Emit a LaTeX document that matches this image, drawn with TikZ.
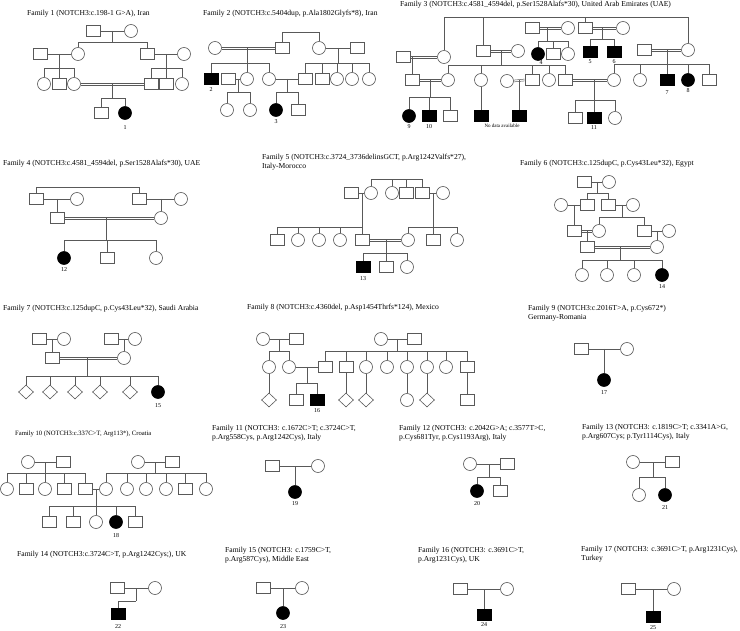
\documentclass[tikz,border=0pt]{standalone}
\usepackage{fontspec}
\setmainfont{Liberation Serif}
\usetikzlibrary{shapes.geometric}
\colorlet{lc}{black!65}
\tikzset{
  sq/.style={draw=lc, line width=0.6pt, rectangle, minimum width=14pt, minimum height=11pt, inner sep=0pt},
  ci/.style={draw=lc, line width=0.6pt, circle, minimum size=13pt, inner sep=0pt},
  dm/.style={draw=lc, line width=0.6pt, diamond, minimum width=15pt, minimum height=14pt, inner sep=0pt},
  aff/.style={fill=black, draw=black},
  ln/.style={draw=lc, line width=0.6pt},
  dln/.style={draw=lc, line width=0.5pt},
  ttl/.style={anchor=west, inner sep=0pt, align=left, font=\fontsize{7.6}{9}\selectfont},
  lab/.style={inner sep=0pt, font=\fontsize{6}{7}\selectfont}
}
\newcommand\Msq[3]{\node[sq] (#1) at (#2,#3) {};}
\newcommand\Mfa[3]{\node[sq,aff] (#1) at (#2,#3) {};}
\newcommand\Fci[3]{\node[ci] (#1) at (#2,#3) {};}
\newcommand\Ffa[3]{\node[ci,aff] (#1) at (#2,#3) {};}
\newcommand\Dmd[3]{\node[dm] (#1) at (#2,#3) {};}
\newcommand\mar[2]{\draw[ln] (#1) -- (#2);}
\newcommand\cmar[2]{\draw[dln] ([yshift=0.9pt]#1.east) -- ([yshift=0.9pt]#2.west);
  \draw[dln] ([yshift=-0.9pt]#1.east) -- ([yshift=-0.9pt]#2.west);}
\newcommand\sibl[2]{\foreach \ch in {#2}{\draw[ln] (\ch.north) |- (#1);}}
\newcommand\desc[3]{\coordinate (#1s) at (#1 |- 0,#2); \draw[ln] (#1) -- (#1s); \sibl{#1s}{#3}}
\newcommand\one[2]{\draw[ln] (#1) -- (#2.north);}
\begin{document}
\begin{tikzpicture}[x=1pt,y=-1pt]
\fill[white] (0,0) rectangle (740,631);
\useasboundingbox (0,0) rectangle (740,631);

% ---------------- Family 1
\node[ttl] (t1) at (27,14) {Family 1 (NOTCH3:c.198-1 G>A), Iran};
\Msq{a1}{93}{31} \Fci{a2}{131}{31} \mar{a1}{a2} \coordinate (am1) at (112,31);
\Msq{a3}{40}{54} \Fci{a4}{78}{54} \Msq{a5}{147}{54} \Fci{a6}{184}{54}
\desc{am1}{42}{a4,a5}
\mar{a3}{a4} \coordinate (am2) at (59,54);
\mar{a5}{a6} \coordinate (am3) at (166,54);
\Fci{a7}{44}{84} \Msq{a8}{59}{84} \Fci{a9}{74}{84}
\Msq{a10}{151}{84} \Msq{a11}{166}{84} \Fci{a12}{182}{84}
\desc{am2}{68}{a7,a8,a9}
\desc{am3}{68}{a10,a11,a12}
\cmar{a9}{a10} \coordinate (am4) at (112,84);
\Msq{a13}{101}{113} \Ffa{a14}{125}{113}
\desc{am4}{98}{a13,a14}
\node[lab] (l1) at (125,128) {1};

% ---------------- Family 2
\node[ttl] (t2) at (203,14) {Family 2 (NOTCH3:c.5404dup, p.Ala1802Glyfs*8), Iran};
\Fci{b1}{215}{48} \Msq{b2}{282}{48} \Fci{b3}{319}{48} \Msq{b4}{357}{48}
\cmar{b1}{b2} \coordinate (bm1) at (247,48);
\draw[ln] (b2.north) -- (b2.north |- 0,32) -| (b3.north);
\mar{b3}{b4} \coordinate (bm2) at (338,48);
\Msq{b5}{305}{79} \Msq{b6}{322}{79} \Fci{b7}{337}{79} \Fci{b8}{352}{79} \Fci{b9}{369}{79}
\desc{bm2}{63}{b5,b6,b7,b8,b9}
\Mfa{b10}{211}{79} \Msq{b13}{228}{79} \Fci{b11}{247}{79} \Fci{b12}{269}{79}
\desc{bm1}{63}{b10,b11,b12}
\mar{b13}{b11} \coordinate (bm3) at (238,79);
\Fci{b14}{227}{110} \Fci{b15}{250}{110}
\desc{bm3}{92}{b14,b15}
\mar{b12}{b5} \coordinate (bm4) at (287,79);
\Ffa{b16}{276}{110} \Msq{b17}{298}{110}
\desc{bm4}{92}{b16,b17}
\node[lab] (l2) at (211,90) {2};
\node[lab] (l3) at (276,122) {3};

% ---------------- Family 3
\node[ttl] (t3) at (400,5) {Family 3 (NOTCH3:c.4581\_4594del, p.Ser1528Alafs*30), United Arab Emirates (UAE)};
\Fci{c1}{444}{57} \Msq{c2}{483}{51} \Msq{c3}{532}{28} \Fci{c4}{568}{28}
\Msq{c5}{585}{28} \Fci{c6}{623}{28} \Fci{c7}{688}{50}
\coordinate (ctop) at (560,17);
\sibl{ctop}{c1,c2,c5,c7}
\cmar{c3}{c4} \coordinate (cm1) at (547,28);
\Ffa{c8}{538}{54} \Msq{c9}{553}{54} \Fci{c10}{568}{54}
\desc{cm1}{41}{c8,c9,c10}
\cmar{c5}{c6} \coordinate (cm2) at (602,28);
\Mfa{c11}{590}{52} \Mfa{c12}{614}{52}
\desc{cm2}{39}{c11,c12}
\node[lab] (l4) at (541,63) {4};
\node[lab] (l5) at (590,62) {5};
\node[lab] (l6) at (614,62) {6};
\Msq{c13}{403}{57} \cmar{c13}{c1} \coordinate (cm3) at (412,57);
\Msq{c14}{412}{80} \one{cm3}{c14}
\Fci{c15}{448}{80} \cmar{c14}{c15} \coordinate (cm4) at (430,80);
\Ffa{c16}{409}{116} \Mfa{c17}{429}{116} \Msq{c18}{450}{116}
\desc{cm4}{97}{c16,c17,c18}
\node[lab] (l9) at (409,127) {9};
\node[lab] (l10) at (429,127) {10};
\Fci{c19}{518}{51} \cmar{c2}{c19} \coordinate (cm5) at (501,51);
\Fci{c20}{481}{80} \Msq{c21}{532}{80} \Fci{c22}{549}{80} \Msq{c23}{565}{80}
\desc{cm5}{65}{c15,c20,c21,c22,c23}
\Fci{c34}{507}{81} \cmar{c34}{c21} \coordinate (cm8) at (519,80);
\Mfa{c33}{481}{116} \one{c20.south}{c33}
\Mfa{c35}{519}{116} \one{cm8}{c35}
\node[lab, font=\fontsize{5}{6}\selectfont] (lnd) at (502,126) {No data available};
\Msq{c24}{644}{50} \cmar{c24}{c7} \coordinate (cm6) at (667,50);
\Fci{c25}{614}{80} \Fci{c26}{640}{80} \Mfa{c27}{667}{80} \Ffa{c28}{688}{80} \Msq{c29}{709}{80}
\desc{cm6}{64}{c25,c26,c27,c28,c29}
\node[lab] (l7) at (667,93) {7};
\node[lab] (l8) at (688,91) {8};
\cmar{c23}{c25} \coordinate (cm7) at (594,80);
\Msq{c30}{575}{118} \Mfa{c31}{594}{118} \Fci{c32}{615}{118}
\desc{cm7}{100}{c30,c31,c32}
\node[lab] (l11) at (594,128) {11};

% ---------------- Family 4
\node[ttl] (t4) at (3,164) {Family 4 (NOTCH3:c.4581\_4594del, p.Ser1528Alafs*30), UAE};
\Msq{d1}{36}{199} \Fci{d2}{77}{199} \Msq{d3}{139}{199} \Fci{d4}{181}{199}
\draw[ln] (d1.north) -- (d1.north |- 0,187) -| (d3.north);
\mar{d1}{d2} \coordinate (dm1) at (57,199);
\mar{d3}{d4} \coordinate (dm2) at (161,199);
\Msq{d5}{57}{218} \Fci{d6}{161}{218}
\one{dm1}{d5} \one{dm2}{d6}
\cmar{d5}{d6} \coordinate (dm3) at (106,218);
\Ffa{d7}{64}{258} \Msq{d8}{107}{258} \Fci{d9}{156}{258}
\desc{dm3}{240}{d7,d8,d9}
\node[lab] (l12) at (64,270) {12};

% ---------------- Family 5
\node[ttl] (t5) at (262,162) {Family 5 (NOTCH3:c.3724\_3736delinsGCT, p.Arg1242Valfs*27),\\Italy-Morocco};
\Msq{e1}{351}{193} \Fci{e2}{371}{193} \Fci{e3}{392}{193} \Msq{e4}{406}{193} \Msq{e5}{422}{193} \Fci{e6}{443}{193}
\coordinate (etop) at (396,179);
\sibl{etop}{e2,e3,e4,e5}
\mar{e1}{e2} \coordinate (em1) at (362,193);
\Msq{e7}{277}{240} \Fci{e8}{298}{240} \Fci{e9}{319}{240} \Fci{e10}{340}{240} \Msq{e11}{362}{240}
\desc{em1}{227}{e7,e8,e9,e10,e11}
\mar{e5}{e6} \coordinate (em2) at (433,193);
\Fci{e12}{408}{240} \Msq{e13}{433}{240} \Fci{e14}{457}{240}
\desc{em2}{227}{e12,e13,e14}
\cmar{e11}{e12} \coordinate (em3) at (386,240);
\Mfa{e15}{363}{267} \Msq{e16}{386}{267} \Fci{e17}{407}{267}
\desc{em3}{253}{e15,e16,e17}
\node[lab] (l13) at (363,279) {13};

% ---------------- Family 6
\node[ttl] (t6) at (520,164) {Family 6 (NOTCH3:c.125dupC, p.Cys43Leu*32), Egypt};
\Msq{f1}{584}{182} \Fci{f2}{609}{182} \mar{f1}{f2} \coordinate (fm1) at (597,182);
\Msq{f3}{587}{205} \Msq{f4}{608}{205}
\desc{fm1}{193}{f3,f4}
\Fci{f5}{561}{205} \mar{f5}{f3} \coordinate (fm2) at (574,205);
\Msq{f6}{574}{231} \one{fm2}{f6}
\Fci{f7}{633}{205} \mar{f4}{f7} \coordinate (fm3) at (622,205);
\Fci{f8}{599}{231} \Msq{f9}{644}{231}
\desc{fm3}{217}{f8,f9}
\cmar{f6}{f8} \coordinate (fm4) at (587,231);
\Msq{f10}{587}{247} \one{fm4}{f10}
\Fci{f11}{669}{231} \mar{f9}{f11} \coordinate (fm5) at (657,231);
\Fci{f12}{657}{247} \one{fm5}{f12}
\cmar{f10}{f12} \coordinate (fm6) at (620,247);
\Fci{f13}{582}{275} \Fci{f14}{607}{275} \Fci{f15}{634}{275} \Ffa{f16}{662}{275}
\desc{fm6}{260}{f13,f14,f15,f16}
\node[lab] (l14) at (662,287) {14};

% ---------------- Family 7
\node[ttl] (t7) at (3,309) {Family 7 (NOTCH3:c.125dupC, p.Cys43Leu*32), Saudi Arabia};
\Msq{g1}{39}{339} \Fci{g2}{64}{339} \Msq{g3}{111}{339} \Fci{g4}{135}{339}
\mar{g1}{g2} \coordinate (gm1) at (52,339);
\mar{g3}{g4} \coordinate (gm2) at (124,339);
\Msq{g5}{52}{358} \Fci{g6}{124}{358}
\one{gm1}{g5} \one{gm2}{g6}
\cmar{g5}{g6} \coordinate (gm3) at (87,358);
\Dmd{g7}{26}{392} \Dmd{g8}{50}{392} \Dmd{g9}{75}{392} \Dmd{g10}{100}{392} \Dmd{g11}{130}{392} \Ffa{g12}{158}{392}
\desc{gm3}{376}{g7,g8,g9,g10,g11,g12}
\node[lab] (l15) at (158,406) {15};

% ---------------- Family 8
\node[ttl] (t8) at (247,308) {Family 8 (NOTCH3:c.4360del, p.Asp1454Thrfs*124), Mexico};
\Fci{h1}{263}{339} \Msq{h2}{296}{339} \Fci{h3}{381}{339} \Msq{h4}{414}{339}
\mar{h1}{h2} \coordinate (hm1) at (279,339);
\mar{h3}{h4} \coordinate (hm2) at (397,339);
\Fci{h5}{269}{367} \Fci{h6}{289}{367}
\desc{hm1}{351}{h5,h6}
\Msq{h7}{325}{367} \Msq{h8}{346}{367} \Fci{h9}{366}{367} \Fci{h10}{387}{367} \Fci{h11}{407}{367} \Fci{h12}{427}{367} \Fci{h13}{446}{367} \Msq{h14}{467}{367}
\desc{hm2}{351}{h7,h8,h9,h10,h11,h12,h13,h14}
\mar{h6}{h7} \coordinate (hm3) at (307,367);
\Msq{h15}{296}{400} \Mfa{h16}{317}{400}
\desc{hm3}{383}{h15,h16}
\node[lab] (l16) at (317,411) {16};
\Dmd{h17}{269}{400} \one{h5.south}{h17}
\Dmd{h18}{346}{400} \one{h8.south}{h18}
\Dmd{h19}{366}{400} \one{h9.south}{h19}
\Fci{h20}{407}{400} \one{h11.south}{h20}
\Dmd{h21}{427}{400} \one{h12.south}{h21}
\Msq{h22}{467}{400} \one{h14.south}{h22}

% ---------------- Family 9
\node[ttl] (t9) at (528,313) {Family 9 (NOTCH3:c.2016T>A, p.Cys672*)\\Germany-Romania};
\Msq{i1}{581}{349} \Fci{i2}{627}{349} \mar{i1}{i2} \coordinate (im1) at (604,349);
\Ffa{i3}{604}{380} \one{im1}{i3}
\node[lab] (l17) at (604,393) {17};

% ---------------- Family 10
\node[ttl, font=\fontsize{6.6}{8}\selectfont] (t10) at (15,434) {Family 10 (NOTCH3:c.337C>T, Arg113*), Croatia};
\Fci{j1}{28}{462} \Msq{j2}{63}{462} \mar{j1}{j2} \coordinate (jm1) at (45,462);
\Fci{j3}{7}{489} \Msq{j4}{26}{489} \Fci{j5}{45}{489} \Msq{j6}{64}{489} \Msq{j7}{85}{489}
\desc{jm1}{473}{j3,j4,j5,j6,j7}
\Fci{j8}{138}{462} \Msq{j9}{172}{462} \mar{j8}{j9} \coordinate (jm2) at (155,462);
\Fci{j10}{106}{489} \Fci{j11}{127}{489} \Fci{j12}{146}{489} \Fci{j13}{166}{489} \Msq{j14}{185}{489} \Fci{j15}{206}{489}
\desc{jm2}{473}{j10,j11,j12,j13,j14,j15}
\mar{j7}{j10} \coordinate (jm3) at (96,489);
\Msq{j16}{49}{522} \Msq{j17}{73}{522} \Fci{j18}{96}{522} \Ffa{j19}{116}{522} \Msq{j20}{135}{522}
\desc{jm3}{506}{j16,j17,j18,j19,j20}
\node[lab] (l18) at (116,536) {18};

% ---------------- Family 11
\node[ttl] (t11) at (212,433) {Family 11 (NOTCH3: c.1672C>T; c.3724C>T,\\p.Arg558Cys, p.Arg1242Cys), Italy};
\Msq{k1}{272}{466} \Fci{k2}{318}{466} \mar{k1}{k2} \coordinate (km1) at (295,466);
\Ffa{k3}{295}{492} \one{km1}{k3}
\node[lab] (l19) at (295,504) {19};

% ---------------- Family 12
\node[ttl] (t12) at (399,433) {Family 12 (NOTCH3: c.2042G>A; c.3577T>C,\\p.Cys681Tyr, p.Cys1193Arg), Italy};
\Fci{m1}{470}{464} \Msq{m2}{507}{464} \mar{m1}{m2} \coordinate (mm1) at (489,464);
\Ffa{m3}{477}{491} \Msq{m4}{500}{491}
\desc{mm1}{477}{m3,m4}
\node[lab] (l20) at (477,504) {20};

% ---------------- Family 13
\node[ttl] (t13) at (582,432) {Family 13 (NOTCH3: c.1819C>T; c.3341A>G,\\p.Arg607Cys; p.Tyr1114Cys), Italy};
\Fci{n1}{633}{462} \Msq{n2}{672}{462} \mar{n1}{n2} \coordinate (nm1) at (653,462);
\Fci{n3}{639}{495} \Ffa{n4}{665}{495}
\desc{nm1}{477}{n3,n4}
\node[lab] (l21) at (665,508) {21};

% ---------------- Family 14
\node[ttl] (t14) at (17,555) {Family 14 (NOTCH3:c.3724C>T, p.Arg1242Cys;), UK};
\Msq{o1}{117}{588} \Fci{o2}{155}{588} \mar{o1}{o2} \coordinate (om1) at (136,588);
\Mfa{o3}{118}{614}
\desc{om1}{601}{o3}
\node[lab] (l22) at (118,627) {22};

% ---------------- Family 15
\node[ttl] (t15) at (225,555) {Family 15 (NOTCH3: c.1759C>T,\\p.Arg587Cys), Middle East};
\Msq{p1}{263}{588} \Fci{p2}{302}{588} \mar{p1}{p2} \coordinate (pm1) at (283,588);
\Ffa{p3}{283}{613} \one{pm1}{p3}
\node[lab] (l23) at (283,627) {23};

% ---------------- Family 16
\node[ttl] (t16) at (418,555) {Family 16 (NOTCH3: c.3691C>T,\\p.Arg1231Cys), UK};
\Msq{q1}{460}{589} \Fci{q2}{507}{589} \mar{q1}{q2} \coordinate (qm1) at (484,589);
\Mfa{q3}{484}{615} \one{qm1}{q3}
\node[lab] (l24) at (484,625) {24};

% ---------------- Family 17
\node[ttl] (t17) at (581,554) {Family 17 (NOTCH3: c.3691C>T, p.Arg1231Cys),\\Turkey};
\Msq{r1}{628}{589} \Fci{r2}{674}{589} \mar{r1}{r2} \coordinate (rm1) at (653,589);
\Mfa{r3}{653}{617} \one{rm1}{r3}
\node[lab] (l25) at (653,628) {25};
\end{tikzpicture}
\end{document}
